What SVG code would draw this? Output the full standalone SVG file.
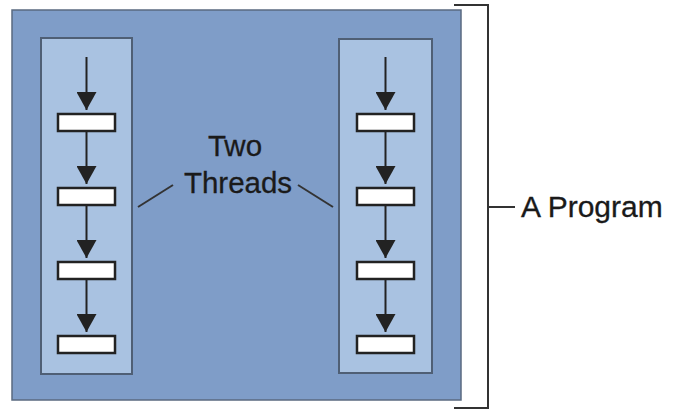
<svg xmlns="http://www.w3.org/2000/svg" width="682" height="411" viewBox="0 0 682 411">
<defs>
<style>
.prog{fill:#7f9dc8;stroke:#5a6a80;stroke-width:1.5}
.thread{fill:#a9c2e1;stroke:#4f5f75;stroke-width:2}
.step{fill:#ffffff;stroke:#222;stroke-width:2.5}
.flow{stroke:#222;stroke-width:2;fill:none}
.lead{stroke:#333;stroke-width:2;fill:none}
.lbl{font-family:"Liberation Sans",Arial,sans-serif;font-size:29.5px;fill:#1a1a1a;stroke:#1a1a1a;stroke-width:0.3}
</style>
<marker id="ah" viewBox="0 0 18 20" refX="18" refY="10" markerWidth="18" markerHeight="20" markerUnits="userSpaceOnUse" orient="auto">
<path d="M0,0 L18,10 L0,20 Z" fill="#222"/>
</marker>
</defs>
<g id="program">
<rect class="prog" x="12" y="10" width="449" height="390"/>
</g>
<g id="thread-left">
<rect class="thread" x="41" y="38" width="91" height="336"/>
<rect class="step" x="58" y="114" width="57" height="17"/>
<rect class="step" x="58" y="188" width="57" height="17"/>
<rect class="step" x="58" y="262" width="57" height="17"/>
<rect class="step" x="58" y="336" width="57" height="17"/>
</g>
<g id="thread-right">
<rect class="thread" x="339" y="39" width="93" height="334"/>
<rect class="step" x="357" y="114" width="57" height="17"/>
<rect class="step" x="357" y="188" width="57" height="17"/>
<rect class="step" x="357" y="262" width="57" height="17"/>
<rect class="step" x="357" y="336" width="57" height="17"/>
</g>
<g id="connectors">
<line class="flow" x1="86.5" y1="57" x2="86.5" y2="110" marker-end="url(#ah)"/>
<line class="flow" x1="86.5" y1="132" x2="86.5" y2="184" marker-end="url(#ah)"/>
<line class="flow" x1="86.5" y1="206" x2="86.5" y2="258" marker-end="url(#ah)"/>
<line class="flow" x1="86.5" y1="280" x2="86.5" y2="332" marker-end="url(#ah)"/>
<line class="flow" x1="385.5" y1="57" x2="385.5" y2="110" marker-end="url(#ah)"/>
<line class="flow" x1="385.5" y1="132" x2="385.5" y2="184" marker-end="url(#ah)"/>
<line class="flow" x1="385.5" y1="206" x2="385.5" y2="258" marker-end="url(#ah)"/>
<line class="flow" x1="385.5" y1="280" x2="385.5" y2="332" marker-end="url(#ah)"/>
<line class="lead" x1="138" y1="207" x2="173" y2="185"/>
<line class="lead" x1="298" y1="185" x2="333" y2="207"/>
<path class="lead" d="M454,5 H488 V408 H454"/>
<line class="lead" x1="488" y1="207" x2="515" y2="207"/>
</g>
<g id="label-threads">
<text class="lbl" x="235" y="156" text-anchor="middle">Two</text>
<text class="lbl" x="238" y="193" text-anchor="middle">Threads</text>
</g>
<g id="label-program">
<text class="lbl" x="521" y="217" style="font-size:30px">A Program</text>
</g>
</svg>
